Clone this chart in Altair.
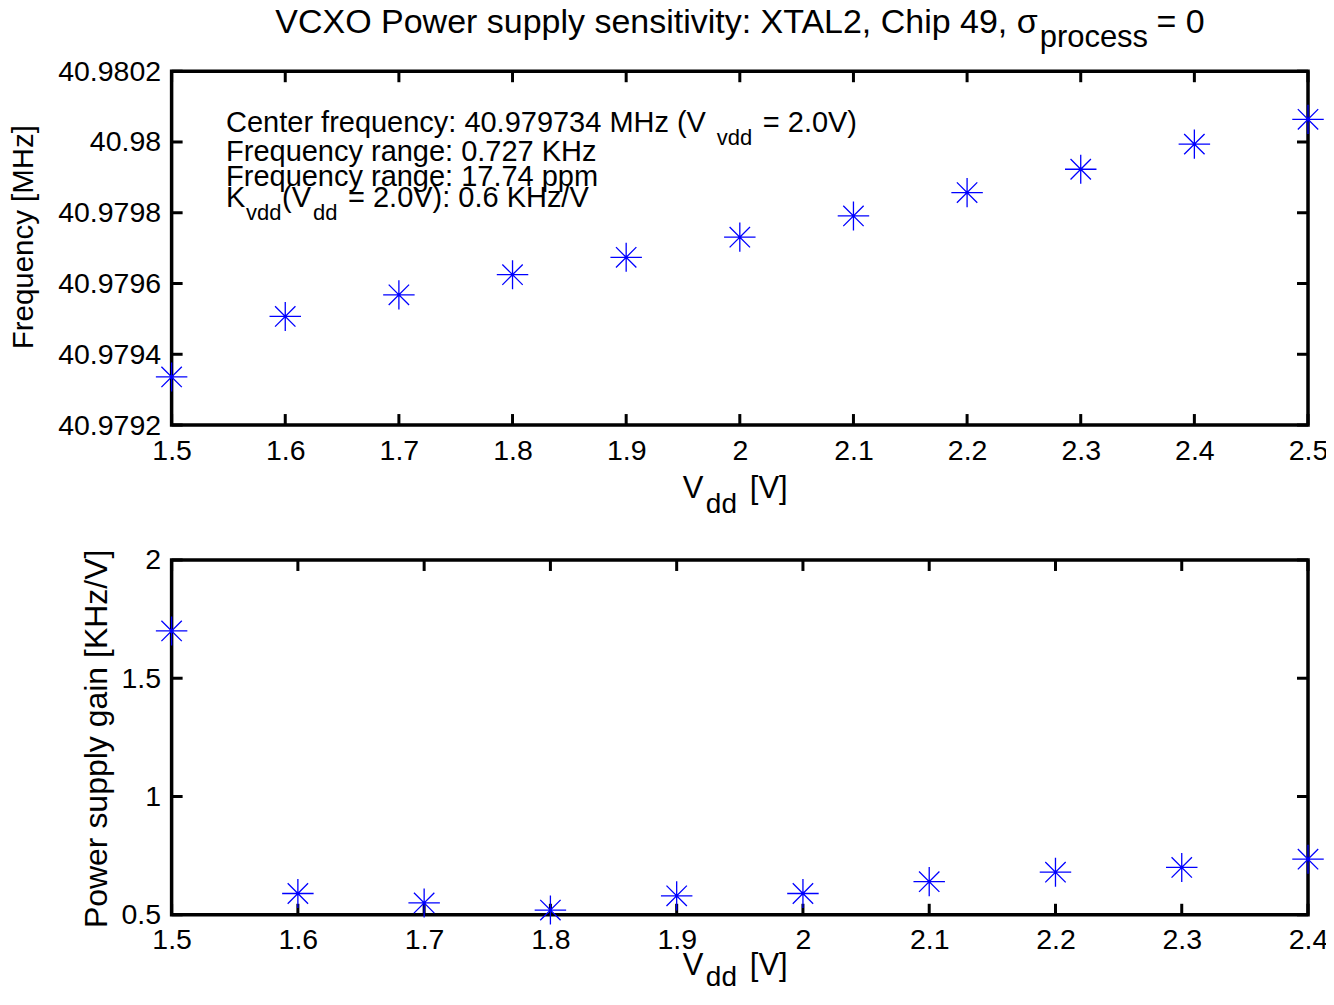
import altair as alt
import pandas as pd

FONT = "Liberation Sans"
BLUE = "#0000ff"

# ---------------- data ----------------
vdd_freq = [1.5, 1.6, 1.7, 1.8, 1.9, 2.0, 2.1, 2.2, 2.3, 2.4, 2.5]
freq_mhz = [40.979336, 40.979507, 40.979568, 40.979625, 40.979674, 40.979731,
            40.979791, 40.979857, 40.979923, 40.979994, 40.980064]

vdd_gain = [1.5, 1.6, 1.7, 1.8, 1.9, 2.0, 2.1, 2.2, 2.3, 2.4]
gain_khz_per_v = [1.70, 0.59, 0.55, 0.52, 0.58, 0.59, 0.64, 0.68, 0.70, 0.735]

top_x_ticks = [1.5, 1.6, 1.7, 1.8, 1.9, 2.0, 2.1, 2.2, 2.3, 2.4, 2.5]
top_y_ticks = [40.9792, 40.9794, 40.9796, 40.9798, 40.98, 40.9802]
bot_x_ticks = [1.5, 1.6, 1.7, 1.8, 1.9, 2.0, 2.1, 2.2, 2.3, 2.4]
bot_y_ticks = [0.5, 1.0, 1.5, 2.0]

title_main = "VCXO Power supply sensitivity: XTAL2, Chip 49, σ"
title_sub = "process"
title_end = "= 0"

ann_line1 = "Center frequency: 40.979734 MHz (V"
ann_line1_sub = "vdd"
ann_line1_end = "= 2.0V)"
ann_line2 = "Frequency range: 0.727 KHz"
ann_line3 = "Frequency range: 17.74 ppm"
ann_line4_a = "K"
ann_line4_sub1 = "vdd"
ann_line4_b = "(V"
ann_line4_sub2 = "dd"
ann_line4_end = "= 2.0V): 0.6 KHz/V"

xtitle_main = "V"
xtitle_sub = "dd"
xtitle_end = "[V]"
ytitle_top = "Frequency [MHz]"
ytitle_bot = "Power supply gain [KHz/V]"

W = 1137
H_TOP = 354
H_BOT = 355
TICK = 11

STAR = "M-1.05,0L1.05,0M0,-0.97L0,0.97M-0.68,-0.68L0.68,0.68M-0.68,0.68L0.68,-0.68"


def txt(s, x, y, size, align="left", baseline="alphabetic", angle=0):
    return alt.Chart(pd.DataFrame({"t": [s]})).mark_text(
        font=FONT, fontSize=size, align=align, baseline=baseline,
        angle=angle, color="black"
    ).encode(x=alt.value(x), y=alt.value(y), text="t:N")


def panel(xs, ys, xdom, ydom, xticks, yticks, yfmt, H):
    xs_ = alt.Scale(domain=xdom, nice=False, zero=False)
    ys_ = alt.Scale(domain=ydom, nice=False, zero=False)
    pts = alt.Chart(pd.DataFrame({"x": xs, "y": ys})).mark_point(
        shape=STAR, size=900, filled=False, stroke=BLUE, strokeWidth=1.3, opacity=1
    ).encode(
        x=alt.X("x:Q", scale=xs_, axis=alt.Axis(values=xticks, format="~g", title=None)),
        y=alt.Y("y:Q", scale=ys_, axis=alt.Axis(values=yticks, format=yfmt, title=None)),
    )
    xt = pd.DataFrame({"x": xticks})
    yt = pd.DataFrame({"y": yticks})
    tb = alt.Chart(xt).mark_rule(color="black", strokeWidth=3).encode(
        x=alt.X("x:Q", scale=xs_), y=alt.value(H), y2=alt.value(H - TICK))
    tt = alt.Chart(xt).mark_rule(color="black", strokeWidth=3).encode(
        x=alt.X("x:Q", scale=xs_), y=alt.value(0), y2=alt.value(TICK))
    tl = alt.Chart(yt).mark_rule(color="black", strokeWidth=3).encode(
        y=alt.Y("y:Q", scale=ys_), x=alt.value(0), x2=alt.value(TICK))
    tr = alt.Chart(yt).mark_rule(color="black", strokeWidth=3).encode(
        y=alt.Y("y:Q", scale=ys_), x=alt.value(W), x2=alt.value(W - TICK))
    return [tb, tt, tl, tr, pts]


top_layers = panel(vdd_freq, freq_mhz, [1.5, 2.5], [40.9792, 40.9802],
                   top_x_ticks, top_y_ticks, ".6~r", H_TOP)
top_layers += [
    # title
    txt(title_main, 866.5, -38, 34, align="right"),
    txt(title_sub, 868.5, -24, 31),
    txt(title_end, 985.5, -38, 34),
    # annotation
    txt(ann_line1, 54.5, 61, 29),
    txt(ann_line1_sub, 545.5, 74, 22),
    txt(ann_line1_end, 591.5, 61, 29),
    txt(ann_line2, 54.5, 89.7, 29),
    txt(ann_line3, 54.5, 115, 29),
    txt(ann_line4_a, 54.5, 136, 29),
    txt(ann_line4_sub1, 74.5, 148.7, 22),
    txt(ann_line4_b, 110.5, 136, 29),
    txt(ann_line4_sub2, 141.5, 148.7, 22),
    txt(ann_line4_end, 176.5, 136, 29),
    # axis titles
    txt(xtitle_main, 511.5, H_TOP + 73, 31),
    txt(xtitle_sub, 534.5, H_TOP + 88, 28),
    txt(xtitle_end, 578.5, H_TOP + 73, 31),
    txt(ytitle_top, -147.5, 166, 29.5, align="center", baseline="middle", angle=270),
]
top = alt.layer(*top_layers).properties(width=W, height=H_TOP)

bot_layers = panel(vdd_gain, gain_khz_per_v, [1.5, 2.4], [0.5, 2.0],
                   bot_x_ticks, bot_y_ticks, "~g", H_BOT)
bot_layers += [
    txt(xtitle_main, 511.5, H_BOT + 60, 31),
    txt(xtitle_sub, 534.5, H_BOT + 71, 28),
    txt(xtitle_end, 578.5, H_BOT + 60, 31),
    txt(ytitle_bot, -74.5, 179, 32, align="center", baseline="middle", angle=270),
]
bot = alt.layer(*bot_layers).properties(width=W, height=H_BOT)

chart = alt.vconcat(top, bot, spacing=135, bounds="flush").properties(
    padding={"left": -1.3, "top": -4, "right": -4, "bottom": -7},
    background="white",
).configure_view(
    stroke="black", strokeWidth=3.5
).configure_axis(
    labelFont=FONT, labelFontSize=28.5, labelColor="black",
    domain=False, ticks=False, grid=False, labelFlush=False, labelOverlap=False,
).configure_axisX(labelPadding=11).configure_axisY(labelPadding=11)

chart.save("out.html", embed_options={"renderer": "svg", "actions": False})
